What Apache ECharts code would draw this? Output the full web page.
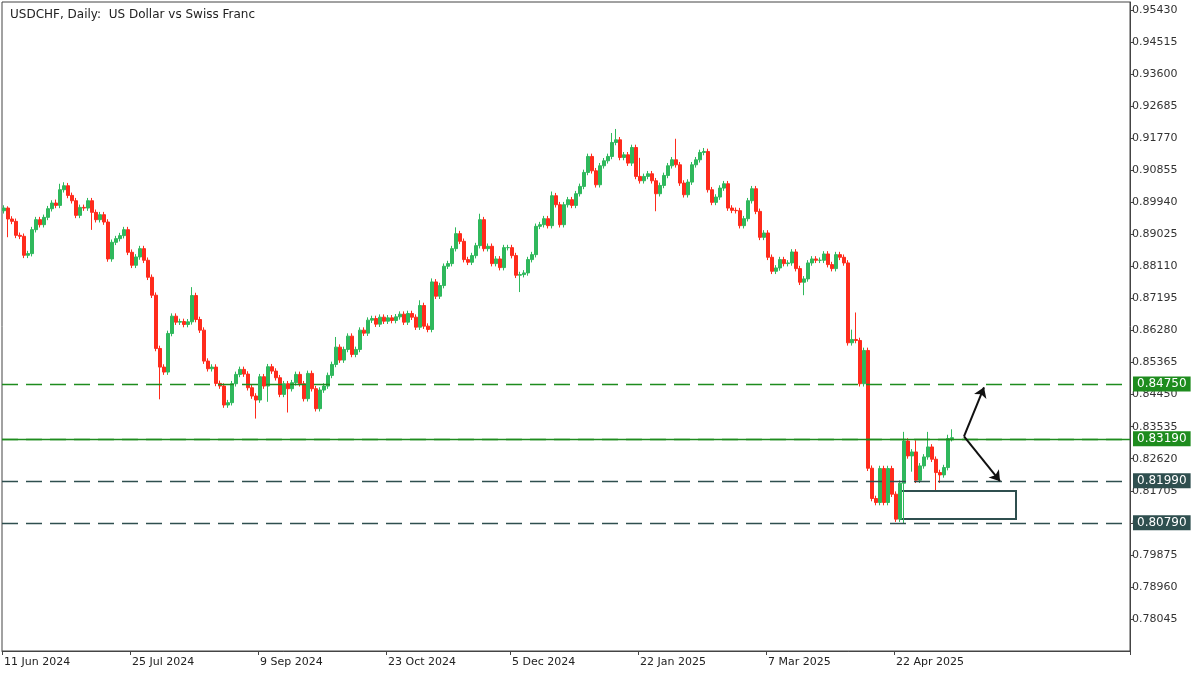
<!DOCTYPE html>
<html><head><meta charset="utf-8">
<script src="https://cdn.jsdelivr.net/npm/echarts@6/dist/echarts.min.js"></script>
<style>html,body{margin:0;padding:0;background:#fff}#c{width:1200px;height:675px}</style>
</head><body><div id="c"></div>
<script>
// Daily closes
const closes = [
0.89777,0.89464,0.89397,0.88998,0.8897,0.88428,0.88476,0.8916,0.89445,0.89302,
0.89511,0.89758,0.8992,0.89853,0.903,0.90414,0.90138,0.89986,0.89568,0.89796,
0.89777,0.89986,0.89654,0.89445,0.89587,0.89378,0.88324,0.88799,0.88903,0.88989,
0.8916,0.88514,0.88143,0.88381,0.88618,0.88286,0.87801,0.87288,0.85768,0.85236,
0.85094,0.86196,0.8669,0.86519,0.86538,0.86452,0.86528,0.87279,0.86595,0.86291,
0.85407,0.85189,0.85236,0.84771,0.84695,0.84153,0.8422,0.84761,0.85027,0.8517,
0.85037,0.84647,0.8441,0.84296,0.84961,0.84695,0.85246,0.85122,0.84932,0.84457,
0.84761,0.84619,0.8479,0.85027,0.84761,0.84334,0.85056,0.84619,0.84049,0.84581,
0.84695,0.84999,0.85312,0.85806,0.85436,0.8574,0.8612,0.85597,0.8574,0.86291,
0.86205,0.86576,0.86623,0.86462,0.86661,0.86547,0.86642,0.86566,0.86671,0.86747,
0.86519,0.86766,0.86661,0.86376,0.86994,0.86405,0.8631,0.87668,0.8726,0.87564,
0.88115,0.88191,0.88618,0.89046,0.88827,0.88305,0.88229,0.88419,0.88704,0.89445,
0.88618,0.88685,0.88191,0.88324,0.88077,0.88647,0.88647,0.88419,0.87858,0.87877,
0.87925,0.88305,0.88447,0.89255,0.89302,0.89473,0.89274,0.90129,0.89872,0.89302,
0.89872,0.90015,0.89853,0.90186,0.90395,0.90794,0.9125,0.90841,0.90442,0.90984,
0.91126,0.9125,0.91649,0.91725,0.91221,0.91297,0.9106,0.91506,0.9068,0.90556,
0.9068,0.90756,0.90556,0.90186,0.90423,0.90708,0.90984,0.91155,0.91012,0.9049,
0.90157,0.90518,0.91012,0.91155,0.91364,0.91392,0.903,0.89939,0.90091,0.90347,
0.90471,0.89777,0.89711,0.89702,0.89274,0.89473,0.89986,0.90328,0.89682,0.88941,
0.89065,0.88371,0.87972,0.88067,0.88305,0.88191,0.8821,0.88523,0.88048,0.87659,
0.87754,0.8821,0.88324,0.88286,0.88286,0.88466,0.88162,0.88048,0.88447,0.88371,
0.8821,0.8593,0.86025,0.85996,0.84761,0.85711,0.82348,0.81484,0.8137,0.82339,
0.8137,0.82339,0.81607,0.80895,0.81921,0.83127,0.827,0.82814,0.82006,0.82415,
0.82671,0.82956,0.82605,0.82225,0.82158,0.82367,0.83194,0.8322
];
const firstOpen = 0.8970;
// upper / lower wick lengths in pips
const upWick = [
8,5,8,8,8,8,8,8,8,8, 8,8,8,10,17,10,8,8,8,8, 8,8,8,8,8,8,8,8,8,8, 8,8,8,8,8,8,8,8,8,8,
8,8,8,8,8,8,8,24,8,8, 8,8,8,8,8,8,8,8,8,8, 8,8,8,8,8,8,8,8,8,8, 8,8,8,8,8,8,8,8,8,8,
8,8,8,29,8,8,8,8,8,8, 8,8,8,8,8,8,8,8,8,8, 8,8,8,8,15,8,8,10,8,8, 8,8,8,18,8,8,8,8,8,17,
8,8,8,8,8,8,8,8,8,8, 8,8,8,8,8,8,8,12,8,8, 8,8,8,8,8,8,8,8,8,8, 8,8,27,31,8,8,8,8,8,53,
8,8,8,8,8,8,8,8,60,8, 8,8,8,8,8,10,8,8,8,8, 8,8,8,8,8,8,8,8,8,8, 8,8,8,8,8,8,8,8,8,8,
8,8,8,8,8,8,8,8,8,8, 8,8,28,77,8,8,8,8,8,8, 8,8,8,8,8,26,8,8,33,8, 8,43,8,8,8,8,11,24
];
const dnWick = [
8,52,8,8,8,8,8,8,8,8, 8,8,8,8,8,8,8,8,8,8, 8,8,50,8,8,8,8,8,8,8, 8,8,8,8,8,8,8,8,8,92,
8,8,8,8,8,8,8,8,8,8, 8,8,8,8,8,8,8,8,8,8, 8,8,8,53,8,8,45,8,8,8, 8,68,8,8,8,8,8,8,8,8,
8,8,8,8,8,8,8,8,8,8, 8,8,8,8,8,8,8,8,8,8, 8,8,8,8,8,8,8,8,8,8, 8,8,8,8,8,8,8,8,8,8,
8,8,8,8,8,8,8,8,8,48, 8,8,8,8,8,8,8,8,8,8, 8,8,8,8,8,8,8,8,8,8, 8,8,8,8,8,8,8,8,8,8,
8,8,8,50,8,8,8,8,8,8, 8,8,8,8,8,8,8,8,8,8, 8,8,8,8,8,8,8,8,8,8, 8,8,8,8,8,8,8,8,8,8,
37,8,8,8,8,8,8,8,8,8, 8,8,8,8,8,8,8,8,8,8, 8,8,8,8,8,116,8,45,8,8, 8,8,8,50,23,8,8,8,8,8, 8,8,8,8,8,8,8,8
];
const xLabels = ['11 Jun 2024','25 Jul 2024','9 Sep 2024','23 Oct 2024','5 Dec 2024','22 Jan 2025','7 Mar 2025','22 Apr 2025'];
const greenLevels = [0.84750, 0.83190];
const slateLevels = [0.81990, 0.80790];
const boxX = [224, 253];
const boxY = [0.8170, 0.8090];
const arrowStart = [240, 0.8326];
const arrowUp = [245, 0.8466];
const arrowDown = [249, 0.8198];
const totalSlots = 282;

const mon = ['Jan','Feb','Mar','Apr','May','Jun','Jul','Aug','Sep','Oct','Nov','Dec'];
const cats = [];
let d = new Date(Date.UTC(2024,5,11));
while (cats.length < totalSlots) {
  const wd = d.getUTCDay(), m = d.getUTCMonth(), dd = d.getUTCDate();
  if (wd !== 0 && wd !== 6 && !(m===11&&dd===25) && !(m===0&&dd===1))
    cats.push(dd + ' ' + mon[m] + ' ' + d.getUTCFullYear());
  d = new Date(d.getTime() + 86400000);
}
const ohlc = [];
for (let i = 0; i < totalSlots; i++) {
  if (i < closes.length) {
    const o = i === 0 ? firstOpen : closes[i-1], c = closes[i];
    ohlc.push([o, c, Math.min(o,c) - dnWick[i]*0.0001, Math.max(o,c) + upWick[i]*0.0001]);
  } else ohlc.push('-');
}
const GREEN = '#1e8c1e', SLATE = '#2f4f4f';
const levelSeries = (vals, col, dashed, withLabel) => {
  const ls = {color: col, type: dashed ? [16, 8] : 'solid', width: 1.3, opacity: 1};
  return {
    type: 'line', data: [], silent: true, color: col,
    markLine: {silent: true, symbol: ['none', 'none'], animation: false, precision: 5,
      lineStyle: ls,
      label: withLabel ? {show: true, position: 'end', distance: 3, formatter: p => Number(p.value).toFixed(5), color: '#fff',
        backgroundColor: col, padding: [2, 4, 1, 4], fontSize: 12, fontFamily: 'DejaVu Sans'} : {show: false},
      emphasis: {disabled: true, lineStyle: ls},
      data: vals.map(v => ({yAxis: v, lineStyle: ls}))}
  };
};
const chart = echarts.init(document.getElementById('c'));
chart.setOption({
  animation: false,
  backgroundColor: '#fff',
  title: {text: 'USDCHF, Daily:  US Dollar vs Swiss Franc', left: 5, top: 4,
    textStyle: {fontSize: 12, fontWeight: 'normal', color: '#222', fontFamily: 'DejaVu Sans'}},
  grid: {left: 2, right: 70, top: 2, bottom: 24, show: true, borderColor: '#444', borderWidth: 1},
  xAxis: {type: 'category', data: cats, boundaryGap: true,
    axisLine: {lineStyle: {color: '#444'}},
    axisTick: {show: true, length: 4, lineStyle: {color: '#444'}, interval: (i, v) => xLabels.includes(v)},
    axisLabel: {interval: (i, v) => xLabels.includes(v), align: 'left', margin: 6, color: '#222',
      fontSize: 11, fontFamily: 'DejaVu Sans'},
    splitLine: {show: false}},
  yAxis: {type: 'value', position: 'right', min: 0.77130, max: 0.95660, interval: 0.00915, scale: true,
    axisLine: {show: true, lineStyle: {color: '#444'}},
    axisTick: {show: true, length: 4, lineStyle: {color: '#444'}},
    axisLabel: {showMinLabel: false, formatter: v => v.toFixed(5), margin: 2, color: '#333',
      fontSize: 11, fontFamily: 'DejaVu Sans'},
    splitLine: {show: false}},
  series: [{
    type: 'candlestick', data: ohlc, barWidth: 3,
    itemStyle: {color: '#2fb85c', color0: '#ff2b1c', borderColor: '#2fb85c', borderColor0: '#ff2b1c', borderWidth: 1},
    markArea: {silent: true, itemStyle: {color: 'rgba(0,0,0,0)', borderColor: SLATE, borderWidth: 2},
      data: [[{coord: [boxX[0], boxY[0]]}, {coord: [boxX[1], boxY[1]]}]]}
  },
  levelSeries([greenLevels[1]], GREEN, false, false),
  levelSeries(greenLevels, GREEN, true, true),
  levelSeries(slateLevels, SLATE, true, true),
  {
    type: 'line', data: [], silent: true,
    markLine: {silent: true, symbol: ['none', 'arrow'], symbolSize: 10, label: {show: false}, precision: 5,
      lineStyle: {color: '#111', width: 2, type: 'solid'},
      data: [[{coord: arrowStart}, {coord: arrowUp}], [{coord: arrowStart}, {coord: arrowDown}]]}
  }]
});
</script></body></html>
